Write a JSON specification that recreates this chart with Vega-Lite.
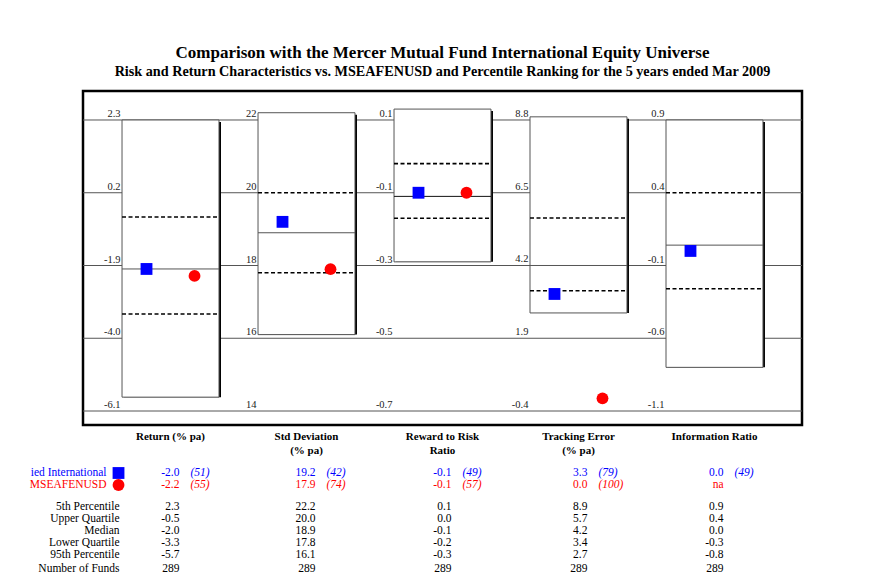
{
  "$schema": "https://vega.github.io/schema/vega-lite/v6.json",
  "autosize": "none",
  "padding": {"left": 83, "top": 91, "right": 805, "bottom": 496},
  "background": "white",
  "config": {
    "font": "Liberation Serif",
    "locale": {"number": {"decimal": ".", "thousands": ",", "grouping": [3], "currency": ["$", ""], "minus": "-"}},
    "view": {"stroke": "black", "strokeWidth": 2.5},
    "text": {"font": "Liberation Serif", "fontSize": 11.5, "color": "black"}
  },
  "datasets": {
    "stats": [
      {"metric": "Return", "header1": "Return (% pa)", "header2": "", "p5": 2.3, "uq": -0.5, "med": -2.0, "lq": -3.3, "p95": -5.7, "n": 289},
      {"metric": "Std Deviation", "header1": "Std Deviation", "header2": "(% pa)", "p5": 22.2, "uq": 20.0, "med": 18.9, "lq": 17.8, "p95": 16.1, "n": 289},
      {"metric": "Reward to Risk", "header1": "Reward to Risk", "header2": "Ratio", "p5": 0.13, "uq": -0.02, "med": -0.11, "lq": -0.17, "p95": -0.29, "n": 289},
      {"metric": "Tracking Error", "header1": "Tracking Error", "header2": "(% pa)", "p5": 8.9, "uq": 5.7, "med": 4.2, "lq": 3.4, "p95": 2.7, "n": 289},
      {"metric": "Information Ratio", "header1": "Information Ratio", "header2": "", "p5": 0.9, "uq": 0.4, "med": 0.04, "lq": -0.26, "p95": -0.8, "n": 289}
    ],
    "points": [
      {"metric": "Return", "series": "Diversified International", "value": -2.0, "rank": 51},
      {"metric": "Return", "series": "MSEAFENUSD", "value": -2.2, "rank": 55},
      {"metric": "Std Deviation", "series": "Diversified International", "value": 19.2, "rank": 42},
      {"metric": "Std Deviation", "series": "MSEAFENUSD", "value": 17.9, "rank": 74},
      {"metric": "Reward to Risk", "series": "Diversified International", "value": -0.1, "rank": 49},
      {"metric": "Reward to Risk", "series": "MSEAFENUSD", "value": -0.1, "rank": 57},
      {"metric": "Tracking Error", "series": "Diversified International", "value": 3.3, "rank": 79},
      {"metric": "Tracking Error", "series": "MSEAFENUSD", "value": 0.0, "rank": 100},
      {"metric": "Information Ratio", "series": "Diversified International", "value": 0.0, "rank": 49},
      {"metric": "Information Ratio", "series": "MSEAFENUSD", "value": null, "rank": null}
    ],
    "seriesLabels": [
      {"series": "Diversified International", "label": "ied International"},
      {"series": "MSEAFENUSD", "label": "MSEAFENUSD"}
    ],
    "ticks": [
      {"metric": "Return", "tick": 2.3}, {"metric": "Return", "tick": 0.2}, {"metric": "Return", "tick": -1.9}, {"metric": "Return", "tick": -4.0}, {"metric": "Return", "tick": -6.1},
      {"metric": "Std Deviation", "tick": 22}, {"metric": "Std Deviation", "tick": 20}, {"metric": "Std Deviation", "tick": 18}, {"metric": "Std Deviation", "tick": 16}, {"metric": "Std Deviation", "tick": 14},
      {"metric": "Reward to Risk", "tick": 0.1}, {"metric": "Reward to Risk", "tick": -0.1}, {"metric": "Reward to Risk", "tick": -0.3}, {"metric": "Reward to Risk", "tick": -0.5}, {"metric": "Reward to Risk", "tick": -0.7},
      {"metric": "Tracking Error", "tick": 8.8}, {"metric": "Tracking Error", "tick": 6.5}, {"metric": "Tracking Error", "tick": 4.2}, {"metric": "Tracking Error", "tick": 1.9}, {"metric": "Tracking Error", "tick": -0.4},
      {"metric": "Information Ratio", "tick": 0.9}, {"metric": "Information Ratio", "tick": 0.4}, {"metric": "Information Ratio", "tick": -0.1}, {"metric": "Information Ratio", "tick": -0.6}, {"metric": "Information Ratio", "tick": -1.1}
    ],
    "rowLabels": [
      {"row": "p5", "label": "5th Percentile"},
      {"row": "uq", "label": "Upper Quartile"},
      {"row": "med", "label": "Median"},
      {"row": "lq", "label": "Lower Quartile"},
      {"row": "p95", "label": "95th Percentile"},
      {"row": "n", "label": "Number of Funds"}
    ]
  },
  "spacing": 6,
  "bounds": "flush",
  "vconcat": [
    {
      "width": 719,
      "height": 334,
      "view": {"stroke": "black", "strokeWidth": 2.5, "fill": "white"},
      "title": {
        "text": "Comparison with the Mercer Mutual Fund International Equity Universe",
        "subtitle": "Risk and Return Characteristics vs. MSEAFENUSD and Percentile Ranking for the 5 years ended Mar 2009",
        "font": "Liberation Serif", "fontSize": 17, "fontWeight": "bold", "color": "black",
        "subtitleFont": "Liberation Serif", "subtitleFontSize": 14.2, "subtitleFontWeight": "bold", "subtitleColor": "black",
        "anchor": "middle", "offset": 11, "subtitlePadding": 3
      },
      "resolve": {"scale": {"y": "independent"}},
      "layer": [
        {
          "layer": [
            {
              "data": {"name": "ticks"},
              "transform": [{"filter": "datum.metric === 'Return'"}],
              "mark": {"type": "rule", "color": "#555555", "strokeWidth": 1},
              "encoding": {"y": {"field": "tick", "type": "quantitative", "scale": {"domain": [-6.5041, 3.1371], "nice": false, "zero": false}, "axis": null}}
            },
            {
              "data": {"name": "ticks"},
              "transform": [{"filter": "datum.metric === 'Return'"}],
              "mark": {"type": "text", "align": "right", "baseline": "alphabetic", "dx": -50, "dy": -3, "fontSize": 10.5, "color": "#222222"},
              "encoding": {
                "x": {"field": "metric", "type": "nominal", "scale": {"type": "band", "domain": ["Return", "Std Deviation", "Reward to Risk", "Tracking Error", "Information Ratio"], "paddingInner": 0.287, "paddingOuter": 0.287}, "axis": null},
                "y": {"field": "tick", "type": "quantitative", "scale": {"domain": [-6.5041, 3.1371], "nice": false, "zero": false}, "axis": null},
                "text": {"field": "tick", "type": "quantitative", "format": ".1f"}
              }
            },
            {
              "data": {"name": "stats"},
              "transform": [{"filter": "datum.metric === 'Return'"}],
              "layer": [
                {"mark": {"type": "bar", "color": "black", "xOffset": 2, "yOffset": 2}, "encoding": {"x": {"field": "metric", "type": "nominal", "axis": null}, "y": {"field": "p5", "type": "quantitative", "scale": {"domain": [-6.5041, 3.1371], "nice": false, "zero": false}, "axis": null}, "y2": {"field": "p95"}}},
                {"mark": {"type": "bar", "fill": "white", "stroke": "#555555", "strokeWidth": 1}, "encoding": {"x": {"field": "metric", "type": "nominal", "axis": null}, "y": {"field": "p5", "type": "quantitative", "scale": {"domain": [-6.5041, 3.1371], "nice": false, "zero": false}, "axis": null}, "y2": {"field": "p95"}}},
                {"mark": {"type": "rule", "color": "black", "strokeWidth": 1.6, "strokeDash": [4, 2.5]}, "encoding": {"x": {"field": "metric", "type": "nominal", "bandPosition": 0, "axis": null}, "x2": {"field": "metric", "bandPosition": 1}, "y": {"field": "uq", "type": "quantitative", "scale": {"domain": [-6.5041, 3.1371], "nice": false, "zero": false}, "axis": null}}},
                {"mark": {"type": "rule", "color": "black", "strokeWidth": 1.6, "strokeDash": [4, 2.5]}, "encoding": {"x": {"field": "metric", "type": "nominal", "bandPosition": 0, "axis": null}, "x2": {"field": "metric", "bandPosition": 1}, "y": {"field": "lq", "type": "quantitative", "scale": {"domain": [-6.5041, 3.1371], "nice": false, "zero": false}, "axis": null}}},
                {"mark": {"type": "rule", "color": "#555555", "strokeWidth": 1}, "encoding": {"x": {"field": "metric", "type": "nominal", "bandPosition": 0, "axis": null}, "x2": {"field": "metric", "bandPosition": 1}, "y": {"field": "med", "type": "quantitative", "scale": {"domain": [-6.5041, 3.1371], "nice": false, "zero": false}, "axis": null}}}
              ]
            },
            {
              "data": {"name": "points"},
              "transform": [{"filter": "datum.metric === 'Return'"}],
              "layer": [
                {"transform": [{"filter": "datum.series === 'Diversified International'"}], "mark": {"type": "point", "filled": true, "opacity": 1, "size": 140, "xOffset": -24}},
                {"transform": [{"filter": "datum.series === 'MSEAFENUSD'"}], "mark": {"type": "point", "filled": true, "opacity": 1, "size": 140, "xOffset": 24}}
              ],
              "encoding": {
                "x": {"field": "metric", "type": "nominal", "axis": null},
                "y": {"field": "value", "type": "quantitative", "scale": {"domain": [-6.5041, 3.1371], "nice": false, "zero": false}, "axis": null},
                "shape": {"field": "series", "type": "nominal", "scale": {"domain": ["Diversified International", "MSEAFENUSD"], "range": ["square", "circle"]}, "legend": null},
                "color": {"field": "series", "type": "nominal", "scale": {"domain": ["Diversified International", "MSEAFENUSD"], "range": ["#0000ff", "#ff0000"]}, "legend": null}
              }
            }
          ]
        },
        {
          "layer": [
            {
              "data": {"name": "ticks"},
              "transform": [{"filter": "datum.metric === 'Std Deviation'"}],
              "mark": {"type": "text", "align": "right", "baseline": "alphabetic", "dx": -50, "dy": -3, "fontSize": 10.5, "color": "#222222"},
              "encoding": {
                "x": {"field": "metric", "type": "nominal", "axis": null},
                "y": {"field": "tick", "type": "quantitative", "scale": {"domain": [13.6151, 22.7973], "nice": false, "zero": false}, "axis": null},
                "text": {"field": "tick", "type": "quantitative", "format": "d"}
              }
            },
            {
              "data": {"name": "stats"},
              "transform": [{"filter": "datum.metric === 'Std Deviation'"}],
              "layer": [
                {"mark": {"type": "bar", "color": "black", "xOffset": 2, "yOffset": 2}, "encoding": {"x": {"field": "metric", "type": "nominal", "axis": null}, "y": {"field": "p5", "type": "quantitative", "scale": {"domain": [13.6151, 22.7973], "nice": false, "zero": false}, "axis": null}, "y2": {"field": "p95"}}},
                {"mark": {"type": "bar", "fill": "white", "stroke": "#555555", "strokeWidth": 1}, "encoding": {"x": {"field": "metric", "type": "nominal", "axis": null}, "y": {"field": "p5", "type": "quantitative", "scale": {"domain": [13.6151, 22.7973], "nice": false, "zero": false}, "axis": null}, "y2": {"field": "p95"}}},
                {"mark": {"type": "rule", "color": "black", "strokeWidth": 1.6, "strokeDash": [4, 2.5]}, "encoding": {"x": {"field": "metric", "type": "nominal", "bandPosition": 0, "axis": null}, "x2": {"field": "metric", "bandPosition": 1}, "y": {"field": "uq", "type": "quantitative", "scale": {"domain": [13.6151, 22.7973], "nice": false, "zero": false}, "axis": null}}},
                {"mark": {"type": "rule", "color": "black", "strokeWidth": 1.6, "strokeDash": [4, 2.5]}, "encoding": {"x": {"field": "metric", "type": "nominal", "bandPosition": 0, "axis": null}, "x2": {"field": "metric", "bandPosition": 1}, "y": {"field": "lq", "type": "quantitative", "scale": {"domain": [13.6151, 22.7973], "nice": false, "zero": false}, "axis": null}}},
                {"mark": {"type": "rule", "color": "#555555", "strokeWidth": 1}, "encoding": {"x": {"field": "metric", "type": "nominal", "bandPosition": 0, "axis": null}, "x2": {"field": "metric", "bandPosition": 1}, "y": {"field": "med", "type": "quantitative", "scale": {"domain": [13.6151, 22.7973], "nice": false, "zero": false}, "axis": null}}}
              ]
            },
            {
              "data": {"name": "points"},
              "transform": [{"filter": "datum.metric === 'Std Deviation'"}],
              "layer": [
                {"transform": [{"filter": "datum.series === 'Diversified International'"}], "mark": {"type": "point", "filled": true, "opacity": 1, "size": 140, "xOffset": -24}},
                {"transform": [{"filter": "datum.series === 'MSEAFENUSD'"}], "mark": {"type": "point", "filled": true, "opacity": 1, "size": 140, "xOffset": 24}}
              ],
              "encoding": {
                "x": {"field": "metric", "type": "nominal", "axis": null},
                "y": {"field": "value", "type": "quantitative", "scale": {"domain": [13.6151, 22.7973], "nice": false, "zero": false}, "axis": null},
                "shape": {"field": "series", "type": "nominal", "legend": null},
                "color": {"field": "series", "type": "nominal", "legend": null}
              }
            }
          ]
        },
        {
          "layer": [
            {
              "data": {"name": "ticks"},
              "transform": [{"filter": "datum.metric === 'Reward to Risk'"}],
              "mark": {"type": "text", "align": "right", "baseline": "alphabetic", "dx": -50, "dy": -3, "fontSize": 10.5, "color": "#222222"},
              "encoding": {
                "x": {"field": "metric", "type": "nominal", "axis": null},
                "y": {"field": "tick", "type": "quantitative", "scale": {"domain": [-0.73849, 0.17973], "nice": false, "zero": false}, "axis": null},
                "text": {"field": "tick", "type": "quantitative", "format": ".1f"}
              }
            },
            {
              "data": {"name": "stats"},
              "transform": [{"filter": "datum.metric === 'Reward to Risk'"}],
              "layer": [
                {"mark": {"type": "bar", "color": "black", "xOffset": 2, "yOffset": 2}, "encoding": {"x": {"field": "metric", "type": "nominal", "axis": null}, "y": {"field": "p5", "type": "quantitative", "scale": {"domain": [-0.73849, 0.17973], "nice": false, "zero": false}, "axis": null}, "y2": {"field": "p95"}}},
                {"mark": {"type": "bar", "fill": "white", "stroke": "#555555", "strokeWidth": 1}, "encoding": {"x": {"field": "metric", "type": "nominal", "axis": null}, "y": {"field": "p5", "type": "quantitative", "scale": {"domain": [-0.73849, 0.17973], "nice": false, "zero": false}, "axis": null}, "y2": {"field": "p95"}}},
                {"mark": {"type": "rule", "color": "black", "strokeWidth": 1.6, "strokeDash": [4, 2.5]}, "encoding": {"x": {"field": "metric", "type": "nominal", "bandPosition": 0, "axis": null}, "x2": {"field": "metric", "bandPosition": 1}, "y": {"field": "uq", "type": "quantitative", "scale": {"domain": [-0.73849, 0.17973], "nice": false, "zero": false}, "axis": null}}},
                {"mark": {"type": "rule", "color": "black", "strokeWidth": 1.6, "strokeDash": [4, 2.5]}, "encoding": {"x": {"field": "metric", "type": "nominal", "bandPosition": 0, "axis": null}, "x2": {"field": "metric", "bandPosition": 1}, "y": {"field": "lq", "type": "quantitative", "scale": {"domain": [-0.73849, 0.17973], "nice": false, "zero": false}, "axis": null}}},
                {"mark": {"type": "rule", "color": "#111111", "strokeWidth": 1}, "encoding": {"x": {"field": "metric", "type": "nominal", "bandPosition": 0, "axis": null}, "x2": {"field": "metric", "bandPosition": 1}, "y": {"field": "med", "type": "quantitative", "scale": {"domain": [-0.73849, 0.17973], "nice": false, "zero": false}, "axis": null}}}
              ]
            },
            {
              "data": {"name": "points"},
              "transform": [{"filter": "datum.metric === 'Reward to Risk'"}],
              "layer": [
                {"transform": [{"filter": "datum.series === 'Diversified International'"}], "mark": {"type": "point", "filled": true, "opacity": 1, "size": 140, "xOffset": -24}},
                {"transform": [{"filter": "datum.series === 'MSEAFENUSD'"}], "mark": {"type": "point", "filled": true, "opacity": 1, "size": 140, "xOffset": 24}}
              ],
              "encoding": {
                "x": {"field": "metric", "type": "nominal", "axis": null},
                "y": {"field": "value", "type": "quantitative", "scale": {"domain": [-0.73849, 0.17973], "nice": false, "zero": false}, "axis": null},
                "shape": {"field": "series", "type": "nominal", "legend": null},
                "color": {"field": "series", "type": "nominal", "legend": null}
              }
            }
          ]
        },
        {
          "layer": [
            {
              "data": {"name": "ticks"},
              "transform": [{"filter": "datum.metric === 'Tracking Error'"}],
              "mark": {"type": "text", "align": "right", "baseline": "alphabetic", "dx": -50, "dy": -3, "fontSize": 10.5, "color": "#222222"},
              "encoding": {
                "x": {"field": "metric", "type": "nominal", "axis": null},
                "y": {"field": "tick", "type": "quantitative", "scale": {"domain": [-0.8426, 9.7168], "nice": false, "zero": false}, "axis": null},
                "text": {"field": "tick", "type": "quantitative", "format": ".1f"}
              }
            },
            {
              "data": {"name": "stats"},
              "transform": [{"filter": "datum.metric === 'Tracking Error'"}],
              "layer": [
                {"mark": {"type": "bar", "color": "black", "xOffset": 2, "yOffset": 2}, "encoding": {"x": {"field": "metric", "type": "nominal", "axis": null}, "y": {"field": "p5", "type": "quantitative", "scale": {"domain": [-0.8426, 9.7168], "nice": false, "zero": false}, "axis": null}, "y2": {"field": "p95"}}},
                {"mark": {"type": "bar", "fill": "white", "stroke": "#555555", "strokeWidth": 1}, "encoding": {"x": {"field": "metric", "type": "nominal", "axis": null}, "y": {"field": "p5", "type": "quantitative", "scale": {"domain": [-0.8426, 9.7168], "nice": false, "zero": false}, "axis": null}, "y2": {"field": "p95"}}},
                {"mark": {"type": "rule", "color": "black", "strokeWidth": 1.6, "strokeDash": [4, 2.5]}, "encoding": {"x": {"field": "metric", "type": "nominal", "bandPosition": 0, "axis": null}, "x2": {"field": "metric", "bandPosition": 1}, "y": {"field": "uq", "type": "quantitative", "scale": {"domain": [-0.8426, 9.7168], "nice": false, "zero": false}, "axis": null}}},
                {"mark": {"type": "rule", "color": "black", "strokeWidth": 1.6, "strokeDash": [4, 2.5]}, "encoding": {"x": {"field": "metric", "type": "nominal", "bandPosition": 0, "axis": null}, "x2": {"field": "metric", "bandPosition": 1}, "y": {"field": "lq", "type": "quantitative", "scale": {"domain": [-0.8426, 9.7168], "nice": false, "zero": false}, "axis": null}}},
                {"mark": {"type": "rule", "color": "#555555", "strokeWidth": 1}, "encoding": {"x": {"field": "metric", "type": "nominal", "bandPosition": 0, "axis": null}, "x2": {"field": "metric", "bandPosition": 1}, "y": {"field": "med", "type": "quantitative", "scale": {"domain": [-0.8426, 9.7168], "nice": false, "zero": false}, "axis": null}}}
              ]
            },
            {
              "data": {"name": "points"},
              "transform": [{"filter": "datum.metric === 'Tracking Error'"}],
              "layer": [
                {"transform": [{"filter": "datum.series === 'Diversified International'"}], "mark": {"type": "point", "filled": true, "opacity": 1, "size": 140, "xOffset": -24}},
                {"transform": [{"filter": "datum.series === 'MSEAFENUSD'"}], "mark": {"type": "point", "filled": true, "opacity": 1, "size": 140, "xOffset": 24}}
              ],
              "encoding": {
                "x": {"field": "metric", "type": "nominal", "axis": null},
                "y": {"field": "value", "type": "quantitative", "scale": {"domain": [-0.8426, 9.7168], "nice": false, "zero": false}, "axis": null},
                "shape": {"field": "series", "type": "nominal", "legend": null},
                "color": {"field": "series", "type": "nominal", "legend": null}
              }
            }
          ]
        },
        {
          "layer": [
            {
              "data": {"name": "ticks"},
              "transform": [{"filter": "datum.metric === 'Information Ratio'"}],
              "mark": {"type": "text", "align": "right", "baseline": "alphabetic", "dx": -50, "dy": -3, "fontSize": 10.5, "color": "#222222"},
              "encoding": {
                "x": {"field": "metric", "type": "nominal", "axis": null},
                "y": {"field": "tick", "type": "quantitative", "scale": {"domain": [-1.1962, 1.0993], "nice": false, "zero": false}, "axis": null},
                "text": {"field": "tick", "type": "quantitative", "format": ".1f"}
              }
            },
            {
              "data": {"name": "stats"},
              "transform": [{"filter": "datum.metric === 'Information Ratio'"}],
              "layer": [
                {"mark": {"type": "bar", "color": "black", "xOffset": 2, "yOffset": 2}, "encoding": {"x": {"field": "metric", "type": "nominal", "axis": null}, "y": {"field": "p5", "type": "quantitative", "scale": {"domain": [-1.1962, 1.0993], "nice": false, "zero": false}, "axis": null}, "y2": {"field": "p95"}}},
                {"mark": {"type": "bar", "fill": "white", "stroke": "#555555", "strokeWidth": 1}, "encoding": {"x": {"field": "metric", "type": "nominal", "axis": null}, "y": {"field": "p5", "type": "quantitative", "scale": {"domain": [-1.1962, 1.0993], "nice": false, "zero": false}, "axis": null}, "y2": {"field": "p95"}}},
                {"mark": {"type": "rule", "color": "black", "strokeWidth": 1.6, "strokeDash": [4, 2.5]}, "encoding": {"x": {"field": "metric", "type": "nominal", "bandPosition": 0, "axis": null}, "x2": {"field": "metric", "bandPosition": 1}, "y": {"field": "uq", "type": "quantitative", "scale": {"domain": [-1.1962, 1.0993], "nice": false, "zero": false}, "axis": null}}},
                {"mark": {"type": "rule", "color": "black", "strokeWidth": 1.6, "strokeDash": [4, 2.5]}, "encoding": {"x": {"field": "metric", "type": "nominal", "bandPosition": 0, "axis": null}, "x2": {"field": "metric", "bandPosition": 1}, "y": {"field": "lq", "type": "quantitative", "scale": {"domain": [-1.1962, 1.0993], "nice": false, "zero": false}, "axis": null}}},
                {"mark": {"type": "rule", "color": "#555555", "strokeWidth": 1}, "encoding": {"x": {"field": "metric", "type": "nominal", "bandPosition": 0, "axis": null}, "x2": {"field": "metric", "bandPosition": 1}, "y": {"field": "med", "type": "quantitative", "scale": {"domain": [-1.1962, 1.0993], "nice": false, "zero": false}, "axis": null}}}
              ]
            },
            {
              "data": {"name": "points"},
              "transform": [{"filter": "datum.metric === 'Information Ratio'"}],
              "layer": [
                {"transform": [{"filter": "datum.series === 'Diversified International'"}], "mark": {"type": "point", "filled": true, "opacity": 1, "size": 140, "xOffset": -24}},
                {"transform": [{"filter": "datum.series === 'MSEAFENUSD'"}], "mark": {"type": "point", "filled": true, "opacity": 1, "size": 140, "xOffset": 24}}
              ],
              "encoding": {
                "x": {"field": "metric", "type": "nominal", "axis": null},
                "y": {"field": "value", "type": "quantitative", "scale": {"domain": [-1.1962, 1.0993], "nice": false, "zero": false}, "axis": null},
                "shape": {"field": "series", "type": "nominal", "legend": null},
                "color": {"field": "series", "type": "nominal", "legend": null}
              }
            }
          ]
        }
      ]
    },
    {
      "width": 719,
      "height": 144,
      "view": {"stroke": null},
      "layer": [
        {
          "data": {"name": "stats"},
          "mark": {"type": "text", "fontWeight": "bold", "fontSize": 11, "align": "center", "baseline": "middle"},
          "encoding": {
            "x": {"field": "metric", "type": "nominal", "scale": {"type": "band", "domain": ["Return", "Std Deviation", "Reward to Risk", "Tracking Error", "Information Ratio"], "paddingInner": 0.287, "paddingOuter": 0.287}, "axis": null},
            "y": {"datum": "h1", "type": "nominal", "scale": {"type": "point", "domain": ["h1", "h2", "g1", "Diversified International", "MSEAFENUSD", "g2", "p5", "uq", "med", "lq", "p95", "n"], "padding": 0.5}, "axis": null},
            "text": {"field": "header1"}
          }
        },
        {
          "data": {"name": "stats"},
          "transform": [{"filter": "datum.header2 !== ''"}],
          "mark": {"type": "text", "fontWeight": "bold", "fontSize": 11, "align": "center", "baseline": "middle", "dy": 2},
          "encoding": {
            "x": {"field": "metric", "type": "nominal", "axis": null},
            "y": {"datum": "h2", "type": "nominal", "axis": null},
            "text": {"field": "header2"}
          }
        },
        {
          "data": {"name": "points"},
          "mark": {"type": "text", "align": "right", "baseline": "middle", "dx": 9},
          "encoding": {
            "x": {"field": "metric", "type": "nominal", "axis": null},
            "y": {"field": "series", "type": "nominal", "axis": null},
            "text": {"condition": {"test": "datum.value === null", "value": "na"}, "field": "value", "type": "quantitative", "format": ".1f"},
            "color": {"field": "series", "type": "nominal", "scale": {"domain": ["Diversified International", "MSEAFENUSD"], "range": ["#0000ff", "#ff0000"]}, "legend": null}
          }
        },
        {
          "data": {"name": "points"},
          "transform": [{"filter": "datum.rank !== null"}],
          "mark": {"type": "text", "align": "left", "baseline": "middle", "dx": 20, "fontStyle": "italic", "text": {"expr": "'(' + datum.rank + ')'"}},
          "encoding": {
            "x": {"field": "metric", "type": "nominal", "axis": null},
            "y": {"field": "series", "type": "nominal", "axis": null},
            "color": {"field": "series", "type": "nominal", "legend": null}
          }
        },
        {
          "data": {"name": "stats"},
          "transform": [{"fold": ["p5", "uq", "med", "lq", "p95"], "as": ["stat", "level"]}],
          "mark": {"type": "text", "align": "right", "baseline": "middle", "dx": 9, "dy": -2},
          "encoding": {
            "x": {"field": "metric", "type": "nominal", "axis": null},
            "y": {"field": "stat", "type": "nominal", "axis": null},
            "text": {"condition": {"test": "abs(datum.level) < 0.05", "value": "0.0"}, "field": "level", "type": "quantitative", "format": ".1f"}
          }
        },
        {
          "data": {"name": "stats"},
          "mark": {"type": "text", "align": "right", "baseline": "middle", "dx": 9},
          "encoding": {
            "x": {"field": "metric", "type": "nominal", "axis": null},
            "y": {"datum": "n", "type": "nominal", "axis": null},
            "text": {"field": "n", "type": "quantitative", "format": "d"}
          }
        },
        {
          "data": {"name": "rowLabels"},
          "transform": [{"filter": "datum.row !== 'n'"}],
          "mark": {"type": "text", "align": "right", "baseline": "middle", "dx": -51, "dy": -2},
          "encoding": {
            "x": {"datum": "Return", "type": "nominal", "axis": null},
            "y": {"field": "row", "type": "nominal", "axis": null},
            "text": {"field": "label"}
          }
        },
        {
          "data": {"name": "rowLabels"},
          "transform": [{"filter": "datum.row === 'n'"}],
          "mark": {"type": "text", "align": "right", "baseline": "middle", "dx": -51},
          "encoding": {
            "x": {"datum": "Return", "type": "nominal", "axis": null},
            "y": {"field": "row", "type": "nominal", "axis": null},
            "text": {"field": "label"}
          }
        },
        {
          "data": {"name": "seriesLabels"},
          "mark": {"type": "text", "align": "right", "baseline": "middle", "dx": -64},
          "encoding": {
            "x": {"datum": "Return", "type": "nominal", "axis": null},
            "y": {"field": "series", "type": "nominal", "axis": null},
            "text": {"field": "label"},
            "color": {"field": "series", "type": "nominal", "legend": null}
          }
        },
        {
          "data": {"name": "points"},
          "transform": [{"filter": "datum.metric === 'Return'"}],
          "mark": {"type": "point", "filled": true, "opacity": 1, "size": 140, "xOffset": -52},
          "encoding": {
            "x": {"field": "metric", "type": "nominal", "axis": null},
            "y": {"field": "series", "type": "nominal", "axis": null},
            "shape": {"field": "series", "type": "nominal", "scale": {"domain": ["Diversified International", "MSEAFENUSD"], "range": ["square", "circle"]}, "legend": null},
            "color": {"field": "series", "type": "nominal", "legend": null}
          }
        }
      ]
    }
  ]
}
